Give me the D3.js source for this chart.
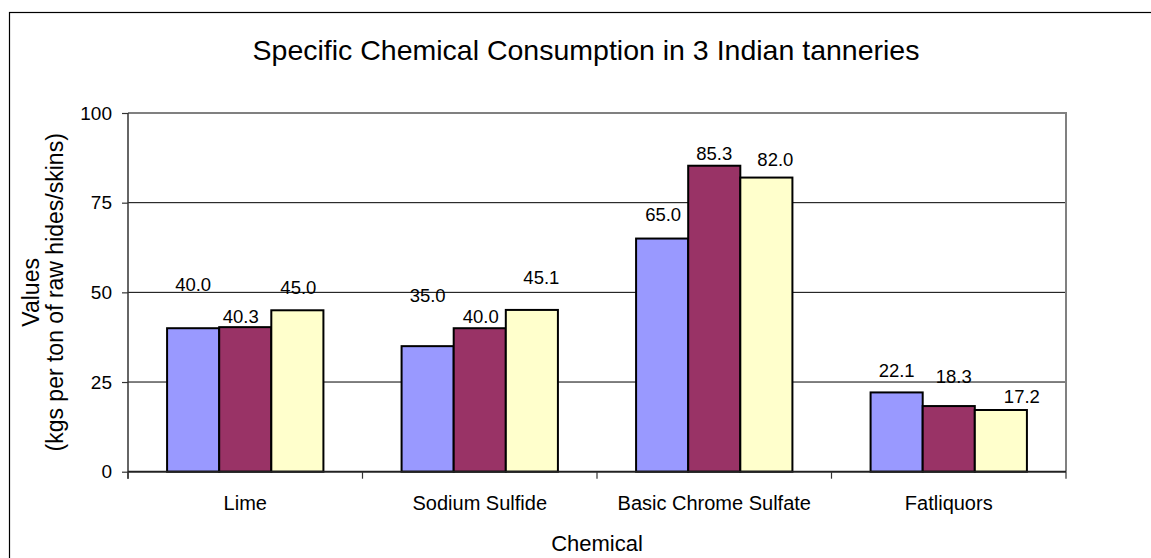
<!DOCTYPE html>
<html>
<head>
<meta charset="utf-8">
<script src="https://cdn.jsdelivr.net/npm/d3@7/dist/d3.min.js"></script>
<style>
  html, body { margin: 0; padding: 0; background: #fff; }
  svg { display: block; font-family: "Liberation Sans", Arial, sans-serif; }
</style>
</head>
<body>
<svg id="chart" width="1151" height="558"></svg>
<script>
// Chart data
const categories = ["Lime", "Sodium Sulfide", "Basic Chrome Sulfate", "Fatliquors"];
const seriesNames = ["Tannery 1", "Tannery 2", "Tannery 3"];
const tannery1 = [40.0, 35.0, 65.0, 22.1];
const tannery2 = [40.3, 40.0, 85.3, 18.3];
const tannery3 = [45.0, 45.1, 82.0, 17.2];
const yTicks = [0, 25, 50, 75, 100];

// Presentation
const colors = ["#9999FF", "#993366", "#FFFFCC"];
// Per-label nudges [dx, lift above bar top] in px, by category then series
const labelNudge = [
  [[0, 44], [-4.5, 11], [1, 23]],
  [[0, 51], [1, 12], [9.5, 32]],
  [[1, 24], [0, 12], [9, 18]],
  [[0, 22], [5, 30], [21, 14]]
];

const svg = d3.select("#chart");
const W = 1151, H = 558;
const plot = { left: 128, right: 1066, top: 113, bottom: 471.7 };

svg.append("rect").attr("width", W).attr("height", H).attr("fill", "#fff");
// Chart-area frame
svg.append("rect")
  .attr("x", 9.5).attr("y", 12.5)
  .attr("width", 1160).attr("height", 560)
  .attr("fill", "none").attr("stroke", "#000").attr("stroke-width", 1.2);

const x0 = d3.scaleBand().domain(categories).range([plot.left, plot.right]).padding(0);
const x1 = d3.scaleBand().domain(seriesNames)
  .range([x0.bandwidth() / 6, x0.bandwidth() * 5 / 6]).padding(0);
const y = d3.scaleLinear().domain([0, 100]).range([plot.bottom, plot.top]);

// Gridlines
svg.append("g").selectAll("line")
  .data(yTicks.filter(v => v > 0 && v < 100))
  .join("line")
  .attr("x1", plot.left).attr("x2", plot.right)
  .attr("y1", d => y(d)).attr("y2", d => y(d))
  .attr("stroke", "#000").attr("stroke-width", 1);

// Plot-area border (top and right)
svg.append("path")
  .attr("d", `M${plot.left},${y(100)}H${plot.right}V${plot.bottom}`)
  .attr("fill", "none").attr("stroke", "#808080").attr("stroke-width", 2);

// Bars
const rows = categories.map((c, i) => ({
  cat: c, i,
  vals: [tannery1[i], tannery2[i], tannery3[i]]
}));

const groups = svg.append("g").selectAll("g")
  .data(rows).join("g")
  .attr("transform", d => `translate(${x0(d.cat)},0)`);

groups.selectAll("rect")
  .data(d => d.vals.map((v, j) => ({ v, j, s: seriesNames[j] })))
  .join("rect")
  .attr("x", d => x1(d.s))
  .attr("y", d => y(d.v))
  .attr("width", x1.bandwidth())
  .attr("height", d => y(0) - y(d.v))
  .attr("fill", d => colors[d.j])
  .attr("stroke", "#000").attr("stroke-width", 2);

// Value labels
groups.selectAll("text")
  .data(d => d.vals.map((v, j) => ({ v, j, s: seriesNames[j], n: labelNudge[d.i][j] })))
  .join("text")
  .attr("x", d => x1(d.s) + x1.bandwidth() / 2 + d.n[0])
  .attr("y", d => y(d.v) - d.n[1] + 6.5)
  .attr("text-anchor", "middle")
  .attr("font-size", 18.5)
  .attr("fill", "#000")
  .text(d => d3.format(".1f")(d.v));

// Y axis
const yAxis = svg.append("g")
  .attr("transform", `translate(${plot.left},0)`)
  .call(d3.axisLeft(y).tickValues(yTicks).tickSize(6).tickPadding(10).tickFormat(d3.format("d")));
yAxis.select(".domain").attr("stroke", "#333").attr("stroke-width", 1.5)
  .attr("d", `M0,${plot.top}V${plot.bottom + 7}`);
yAxis.selectAll(".tick line").attr("stroke", "#333").attr("stroke-width", 1.2);
yAxis.selectAll(".tick text").attr("font-size", 19).attr("fill", "#000")
  .attr("font-family", "Liberation Sans, Arial, sans-serif");

// X axis
const xAxis = svg.append("g")
  .attr("transform", `translate(0,${plot.bottom})`)
  .call(d3.axisBottom(x0).tickSize(0).tickPadding(24));
xAxis.select(".domain").attr("stroke", "#222").attr("stroke-width", 2)
  .attr("d", `M${plot.left},0H${plot.right}`);
xAxis.selectAll(".tick text").attr("font-size", 20).attr("fill", "#000")
  .attr("font-family", "Liberation Sans, Arial, sans-serif");
// Category boundary ticks
const bounds = categories.map(c => x0(c)).concat([plot.right]);
xAxis.append("g").selectAll("line")
  .data(bounds).join("line")
  .attr("x1", d => d).attr("x2", d => d)
  .attr("y1", 0).attr("y2", 7)
  .attr("stroke", "#333").attr("stroke-width", 1.2);

// Titles
svg.append("text")
  .attr("x", 586).attr("y", 59.5)
  .attr("text-anchor", "middle").attr("font-size", 28.5)
  .text("Specific Chemical Consumption in 3 Indian tanneries");

svg.append("text")
  .attr("x", (plot.left + plot.right) / 2).attr("y", 550.5)
  .attr("text-anchor", "middle").attr("font-size", 22)
  .text("Chemical");

const yTitle = svg.append("text")
  .attr("transform", `translate(38.5,${(plot.top + plot.bottom) / 2}) rotate(-90)`)
  .attr("text-anchor", "middle").attr("font-size", 23);
yTitle.append("tspan").attr("x", 0).attr("dy", 0).text("Values");
yTitle.append("tspan").attr("x", 0).attr("dy", 24.2).text("(kgs per ton of raw hides/skins)");
</script>
</body>
</html>
